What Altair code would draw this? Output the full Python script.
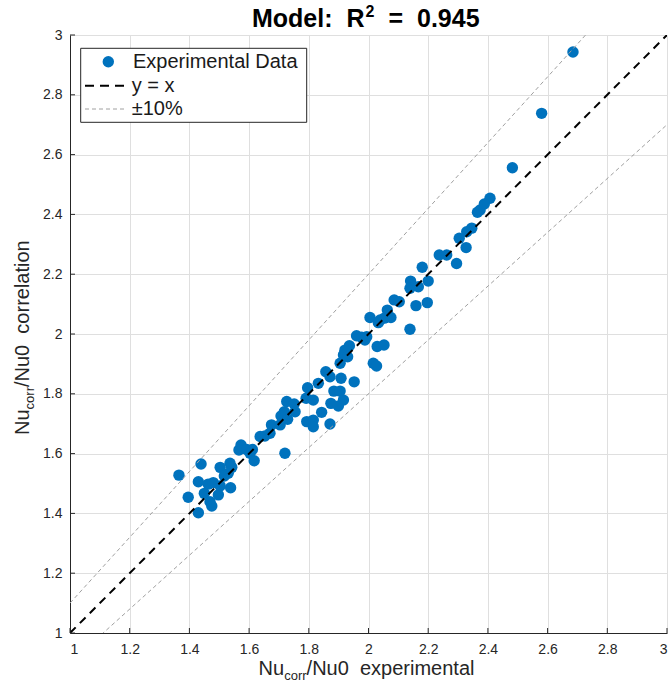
import altair as alt
import pandas as pd

# ---- data ----
x_exp = [2.407, 2.388, 2.374, 2.365, 2.346, 2.329, 2.304, 2.327, 2.237, 2.262,
         2.295, 2.180, 2.141, 2.200, 2.139, 2.167, 2.086, 2.103, 2.159, 2.197,
         2.063, 2.005, 2.039, 2.053, 2.075, 2.033, 2.139, 1.960, 1.977, 1.994,
         1.988, 1.936, 2.029, 2.052, 1.921, 1.916, 1.905, 1.930, 2.016, 1.857,
         1.871, 1.908, 1.952, 1.832, 1.796, 1.884, 1.905, 1.791, 1.815, 1.916,
         1.874, 1.899, 1.726, 1.751, 1.718, 1.754, 1.707, 1.729, 1.843, 1.793,
         1.815, 1.815, 1.871, 1.670, 1.653, 1.637, 1.675, 1.704, 1.573, 1.566,
         1.592, 1.611, 1.603, 1.617, 1.720, 1.439, 1.536, 1.542, 1.503, 1.530,
         1.517, 1.365, 1.463, 1.480, 1.430, 1.503, 1.538, 1.450, 1.497, 1.396,
         1.469, 1.475, 1.430, 2.685, 2.580, 2.482, 2.027]
y_corr = [2.454, 2.435, 2.415, 2.407, 2.354, 2.342, 2.320, 2.289, 2.264, 2.264,
          2.236, 2.223, 2.177, 2.177, 2.153, 2.158, 2.114, 2.108, 2.095, 2.105,
          2.080, 2.055, 2.047, 2.053, 2.055, 2.038, 2.016, 1.994, 1.989, 1.991,
          1.980, 1.961, 1.958, 1.963, 1.946, 1.930, 1.902, 1.924, 1.902, 1.874,
          1.857, 1.852, 1.840, 1.835, 1.820, 1.809, 1.809, 1.785, 1.779, 1.779,
          1.768, 1.759, 1.774, 1.766, 1.740, 1.740, 1.726, 1.715, 1.738, 1.707,
          1.712, 1.690, 1.699, 1.668, 1.659, 1.657, 1.696, 1.696, 1.629, 1.612,
          1.614, 1.614, 1.601, 1.576, 1.601, 1.565, 1.568, 1.554, 1.554, 1.534,
          1.525, 1.528, 1.498, 1.503, 1.506, 1.492, 1.486, 1.467, 1.462, 1.454,
          1.439, 1.425, 1.402, 2.943, 2.738, 2.556, 1.893]
tick_vals = [1.0, 1.2, 1.4, 1.6, 1.8, 2.0, 2.2, 2.4, 2.6, 2.8, 3.0]
ref_x = [1.0, 3.0]
band_factors = [1.1, 0.9]

NB = "\u00a0"
title_parts = ["Model:" + NB + " R", "2", "=" + NB + " 0.945"]
legend_labels = ["Experimental Data", "y = x", "\u00b110%"]
xtitle_parts = ["Nu", "corr", "/Nu0" + NB + " experimental"]
ytitle_parts = ["Nu", "corr", "/Nu0" + NB + " correlation"]

W, H = 597, 598
FONT = "Liberation Sans"
BLUE = "#0072BD"
AX = "#262626"

pts = pd.DataFrame({"x": x_exp, "y": y_corr})
diag = pd.DataFrame({"x": ref_x, "y": ref_x})
band = pd.DataFrame([{"x": xv, "y": f * xv, "g": str(f)} for f in band_factors for xv in ref_x])
ticks = pd.DataFrame({"v": tick_vals})
one = pd.DataFrame({"a": [0]})

xs = alt.Scale(domain=[1, 3], nice=False, zero=False)
ys = alt.Scale(domain=[1, 3], nice=False, zero=False)
xaxis = alt.Axis(values=tick_vals, format="~g", title=None, labelPadding=9, ticks=False)
yaxis = alt.Axis(values=tick_vals, format="~g", title=None, labelPadding=8, ticks=False)


def X(f):
    return alt.X(f, scale=xs, axis=xaxis)


def Y(f):
    return alt.Y(f, scale=ys, axis=yaxis)


def txt(s, x, y, size, angle=0, align="left", weight="normal", color=AX, baseline="alphabetic"):
    return alt.Chart(one).mark_text(
        text=s, fontSize=size, font=FONT, align=align, baseline=baseline,
        angle=angle, fontWeight=weight, color=color
    ).encode(x=alt.value(x), y=alt.value(y))


points = alt.Chart(pts).mark_circle(size=130, color=BLUE, opacity=1).encode(x=X("x:Q"), y=Y("y:Q"))
diag_line = alt.Chart(diag).mark_line(color="black", strokeWidth=2, strokeDash=[8, 6], clip=True).encode(
    x=X("x:Q"), y=Y("y:Q"))
band_lines = alt.Chart(band).mark_line(color="#a0a0a0", strokeWidth=1, strokeDash=[4, 3], clip=True).encode(
    x=X("x:Q"), y=Y("y:Q"), detail="g:N")

xticks = alt.Chart(ticks).mark_rule(color=AX, strokeWidth=1).encode(
    x=X("v:Q"), y=alt.value(H), y2=alt.value(H - 5))
yticks = alt.Chart(ticks).mark_rule(color=AX, strokeWidth=1).encode(
    y=Y("v:Q"), x=alt.value(0), x2=alt.value(5))

# legend
leg_box = alt.Chart(one).mark_rect(fill="white", stroke=AX, strokeWidth=1).encode(
    x=alt.value(10.7), x2=alt.value(236.7), y=alt.value(13.3), y2=alt.value(87.3))
leg_dot = alt.Chart(one).mark_circle(size=130, color=BLUE, opacity=1).encode(
    x=alt.value(38.3), y=alt.value(26.7))
leg_l1 = alt.Chart(one).mark_rule(color="black", strokeWidth=2, strokeDash=[9, 6]).encode(
    x=alt.value(15), x2=alt.value(58.3), y=alt.value(50.7))
leg_l2 = alt.Chart(one).mark_rule(color="#a0a0a0", strokeWidth=1, strokeDash=[4, 3]).encode(
    x=alt.value(15), x2=alt.value(56.7), y=alt.value(74))
leg_t1 = txt(legend_labels[0], 63, 26.7, 20, baseline="middle", color="#1a1a1a")
leg_t2 = txt(legend_labels[1], 61.7, 50.7, 20, baseline="middle", color="#1a1a1a")
leg_t3 = txt(legend_labels[2], 61.7, 74, 20, baseline="middle", color="#1a1a1a")

# title (with superscript) and axis titles (with subscripts)
t1 = txt(title_parts[0], 182, -8, 25, weight="bold", color="black")
t2 = txt(title_parts[1], 295.5, -18, 16, weight="bold", color="black")
t3 = txt(title_parts[2], 318.5, -8, 25, weight="bold", color="black")
xt1 = txt(xtitle_parts[0], 188.6, 640, 20)
xt2 = txt(xtitle_parts[1], 214.2, 645, 13)
xt3 = txt(xtitle_parts[2], 236.6, 640, 20)
yt1 = txt(ytitle_parts[0], -41, 400, 20, angle=270)
yt2 = txt(ytitle_parts[1], -36, 374.4, 13, angle=270)
yt3 = txt(ytitle_parts[2], -41, 352, 20, angle=270)

chart = alt.layer(
    points, diag_line, band_lines, xticks, yticks,
    leg_box, leg_dot, leg_l1, leg_l2, leg_t1, leg_t2, leg_t3,
    t1, t2, t3, xt1, xt2, xt3, yt1, yt2, yt3
).properties(
    width=W, height=H,
    padding={"left": 70, "top": 35, "right": 1, "bottom": 53},
    autosize=alt.AutoSizeParams(type="none"),
).configure_view(strokeWidth=0).configure_axis(
    grid=True, gridColor="#dfdfdf", gridWidth=1,
    domainColor=AX, domainWidth=1,
    labelColor=AX, labelFont=FONT, labelFontSize=14,
)

chart.save("out.html", embed_options={"renderer": "svg", "actions": False})
